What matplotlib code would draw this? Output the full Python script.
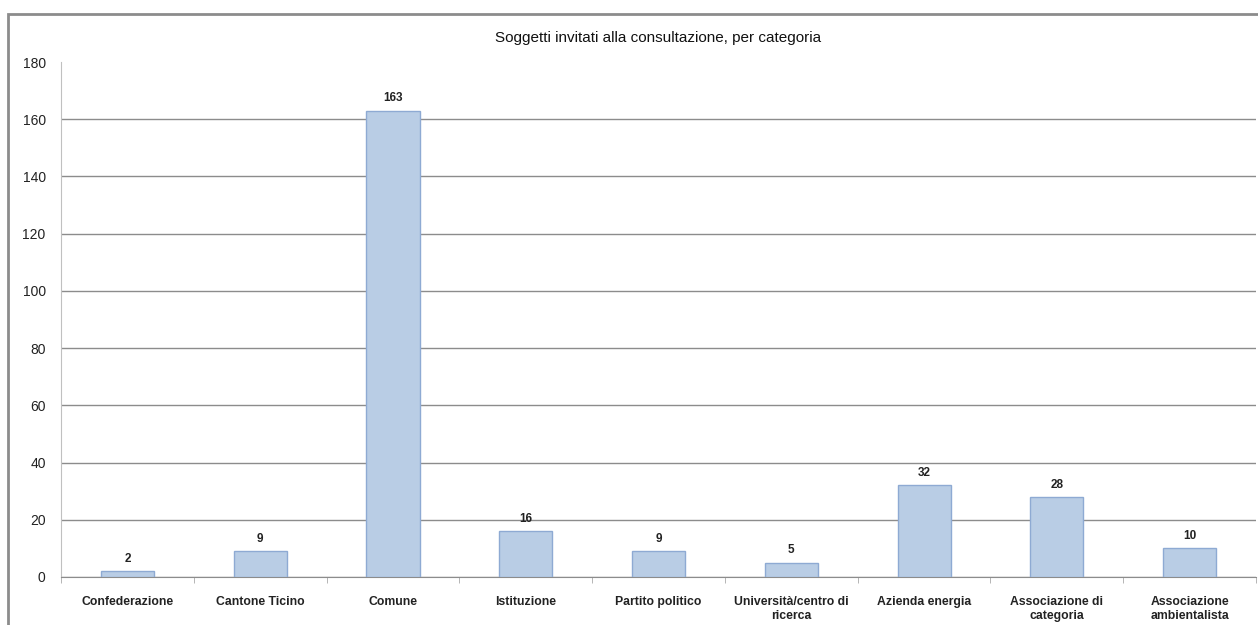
import matplotlib
matplotlib.use("Agg")
import matplotlib.pyplot as plt
from matplotlib.patches import Rectangle

categories = ["Confederazione", "Cantone Ticino", "Comune", "Istituzione", "Partito politico",
              "Università/centro di\nricerca", "Azienda energia", "Associazione di\ncategoria",
              "Associazione\nambientalista"]
values = [2, 9, 163, 16, 9, 5, 32, 28, 10]
yticks = [0, 20, 40, 60, 80, 100, 120, 140, 160, 180]
title = "Soggetti invitati alla consultazione, per categoria"

W, H = 1258, 625
fig = plt.figure(figsize=(W / 100, H / 100), dpi=100)
plt.rcParams['font.family'] = ['Liberation Sans', 'DejaVu Sans']

# outer frame
fig.patches.append(Rectangle((8 / W, -0.1), 1.2, 1 - 14 / H + 0.1, transform=fig.transFigure,
                             fill=False, edgecolor="#8c8c8c", linewidth=2))

ax = fig.add_axes([61 / W, 1 - 577 / H, (1256 - 61) / W, (577 - 62) / H])
x = list(range(len(categories)))
ax.bar(x, values, width=0.4, color="#b9cde5", edgecolor="#8eaad3", linewidth=1, zorder=3)
for xi, v in zip(x, values):
    ax.text(xi, v + 2.2, str(v), ha="center", va="bottom", fontsize=8.5, fontweight="bold", color="#222222")

ax.set_xlim(-0.5, len(categories) - 0.5)
ax.set_ylim(0, 180)
ax.set_yticks(yticks)
ax.set_yticklabels([str(t) for t in yticks], fontsize=10, color="#222222")
ax.yaxis.grid(True, color="#8c8c8c", linewidth=1, zorder=0)
ax.get_ygridlines()[-1].set_visible(False)
ax.tick_params(axis="y", length=0, pad=11)

ax.set_xticks(x)
ax.set_xticklabels(categories, fontsize=8.8, fontweight="bold", color="#222222", linespacing=1.15)
ax.tick_params(axis="x", length=0, pad=14)
# minor ticks between categories
ax.set_xticks([i + 0.5 for i in range(-1, len(categories))], minor=True)
ax.tick_params(axis="x", which="minor", length=4, color="#aaaaaa", direction="out")

for s in ["top", "right"]:
    ax.spines[s].set_visible(False)
ax.spines["left"].set_color("#c0c0c0")
ax.spines["bottom"].set_color("#8c8c8c")
ax.set_axisbelow(True)

fig.text((61 + 1256) / 2 / W, 1 - 38 / H, title, ha="center", va="center", fontsize=11, color="#111111")

fig.savefig("out.png", dpi=100)
